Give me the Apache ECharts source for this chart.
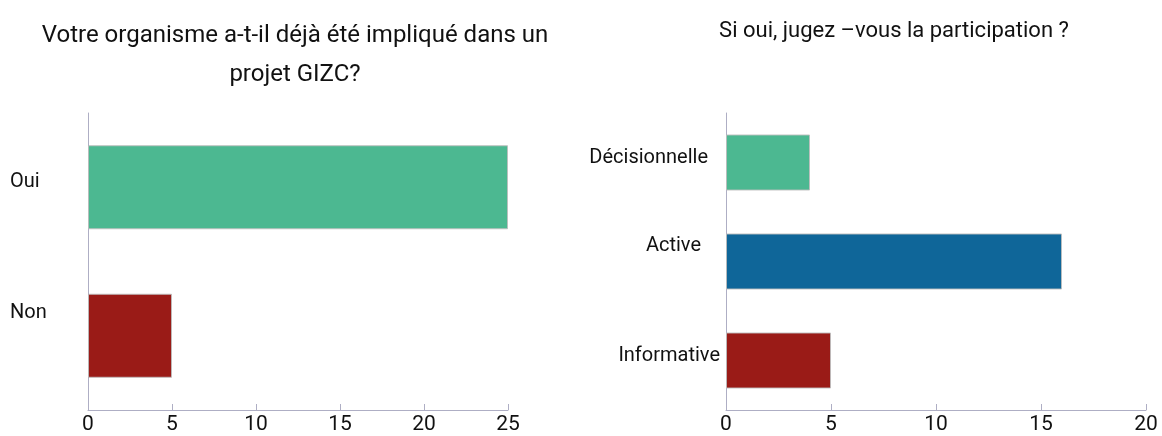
<!DOCTYPE html>
<html>
<head>
<meta charset="utf-8">
<script src="https://cdn.jsdelivr.net/npm/echarts@6/dist/echarts.min.js"></script>
<style>
  html, body { margin: 0; padding: 0; background: #fff; }
  #chart { width: 1162px; height: 436px; }
</style>
</head>
<body>
<div id="chart"></div>
<script>
// Question 1: involvement in a GIZC project
const q1Categories = ['Oui', 'Non'];
const q1Values = [25, 5];
const q1Ticks = [0, 5, 10, 15, 20, 25];

// Question 2: type of participation
const q2Categories = ['Décisionnelle', 'Active', 'Informative'];
const q2Values = [4, 16, 5];
const q2Ticks = [0, 5, 10, 15, 20];

const GREEN = '#4cb891';
const BLUE = '#0f6699';
const RED = '#9a1b17';
const q1Colors = [GREEN, RED];
const q2Colors = [GREEN, BLUE, RED];

const FONT = "'Liberation Sans Narrow', Roboto, sans-serif";
const AXIS_COLOR = '#aeaec4';

// per-label nudges: [shift up, extra right gap]
const q1Nudge = { 'Oui': [5, 0], 'Non': [23, 0] };
const q2Nudge = { 'Décisionnelle': [5, 12], 'Active': [16, 19], 'Informative': [5, 0] };

function nudgedLabel(nudge) {
  return function (v) {
    const n = nudge[v] || [0, 0];
    return '{t|' + v + '}' + (n[1] ? '{g' + n[1] + '|}' : '') + '\n{s' + n[0] + '|}';
  };
}
function nudgeRich(nudge, fontSize) {
  const rich = { t: { fontFamily: FONT, fontSize: fontSize, color: '#111', lineHeight: fontSize + 2 } };
  Object.keys(nudge).forEach(function (k) {
    const n = nudge[k];
    rich['s' + n[0]] = { lineHeight: 2 * n[0], fontSize: 1 };
    if (n[1]) rich['g' + n[1]] = { width: n[1], fontSize: 1 };
  });
  return rich;
}

const chart = echarts.init(document.getElementById('chart'));

function valueAxis(gridIndex, ticks) {
  return {
    type: 'value',
    gridIndex: gridIndex,
    min: ticks[0],
    max: ticks[ticks.length - 1],
    interval: ticks[1] - ticks[0],
    axisLine: { show: true, lineStyle: { color: AXIS_COLOR, width: 1 } },
    axisTick: { show: true, inside: true, length: 6, lineStyle: { color: AXIS_COLOR } },
    splitLine: { show: false },
    axisLabel: { color: '#111', fontFamily: FONT, fontSize: 21, margin: 4 }
  };
}

chart.setOption({
  animation: false,
  title: [
    {
      text: 'Votre organisme a-t-il déjà été impliqué dans un\nprojet GIZC?',
      left: 290, top: 11, textAlign: 'center',
      textStyle: { fontFamily: FONT, fontSize: 24, fontWeight: 'normal', color: '#111', lineHeight: 39 }
    },
    {
      text: 'Si oui, jugez –vous la participation ?',
      left: 889, top: 7, textAlign: 'center',
      textStyle: { fontFamily: FONT, fontSize: 22, fontWeight: 'normal', color: '#111', lineHeight: 38 }
    }
  ],
  grid: [
    { left: 88, right: 654, top: 113, bottom: 26, outerBoundsMode: 'none' },
    { left: 726, right: 16, top: 113, bottom: 26, outerBoundsMode: 'none' }
  ],
  xAxis: [valueAxis(0, q1Ticks), valueAxis(1, q2Ticks)],
  yAxis: [
    {
      type: 'category', gridIndex: 0, inverse: true,
      data: q1Categories,
      axisLine: { show: true, lineStyle: { color: AXIS_COLOR } },
      axisTick: { show: false },
      axisLabel: {
        align: 'left', margin: 78,
        formatter: nudgedLabel(q1Nudge),
        rich: nudgeRich(q1Nudge, 20)
      }
    },
    {
      type: 'category', gridIndex: 1, inverse: true,
      data: q2Categories,
      axisLine: { show: true, lineStyle: { color: AXIS_COLOR } },
      axisTick: { show: false },
      axisLabel: {
        align: 'right', margin: 6,
        formatter: nudgedLabel(q2Nudge),
        rich: nudgeRich(q2Nudge, 20)
      }
    }
  ],
  series: [
    {
      type: 'bar', xAxisIndex: 0, yAxisIndex: 0,
      barWidth: 84,
      data: q1Values.map((v, i) => ({
        value: v,
        itemStyle: { color: q1Colors[i], borderColor: 'rgba(190,190,190,0.9)', borderWidth: 1 }
      }))
    },
    {
      type: 'bar', xAxisIndex: 1, yAxisIndex: 1,
      barWidth: 56,
      data: q2Values.map((v, i) => ({
        value: v,
        itemStyle: { color: q2Colors[i], borderColor: 'rgba(190,190,190,0.9)', borderWidth: 1 }
      }))
    }
  ]
});
</script>
</body>
</html>
